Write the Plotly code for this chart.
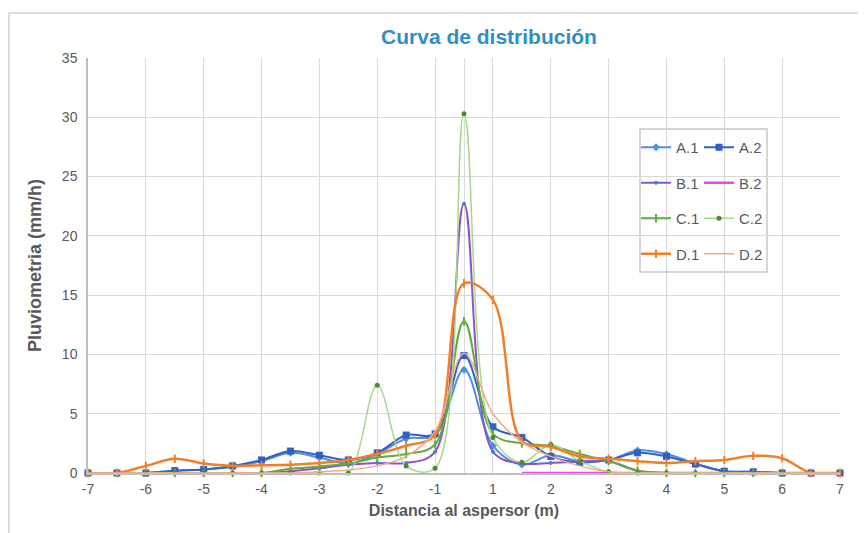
import plotly.graph_objects as go

distances = [-7, -6.5, -6, -5.5, -5, -4.5, -4, -3.5, -3, -2.5, -2, -1.5, -1, 0,
             1, 1.5, 2, 2.5, 3, 3.5, 4, 4.5, 5, 5.5, 6, 6.5, 7]
tick_values = [-7, -6, -5, -4, -3, -2, -1, 0, 1, 2, 3, 4, 5, 6, 7]
tick_labels = ["-7", "-6", "-5", "-4", "-3", "-2", "-1", "", "1", "2", "3", "4", "5", "6", "7"]

a1 = [0, 0, 0, 0.2, 0.3, 0.5, 1.0, 1.7, 1.3, 0.8, 1.6, 2.9, 3.2, 8.7,
      2.3, 0.7, 1.5, 1.0, 1.1, 1.9, 1.6, 0.8, 0.15, 0.1, 0, 0, 0]
a2 = [0, 0, 0, 0.2, 0.3, 0.6, 1.1, 1.85, 1.5, 1.1, 1.7, 3.2, 3.3, 9.9,
      3.9, 3.0, 1.4, 0.9, 1.1, 1.7, 1.4, 0.75, 0.15, 0.1, 0, 0, 0]
b1 = [0, 0, 0, 0, 0, 0, 0, 0.15, 0.4, 0.7, 0.85, 0.85, 1.8, 22.7,
      1.8, 0.8, 0.85, 0.95, 1.0, 0.2, 0, 0, 0, 0, 0, 0, 0]
b2 = [None] * 15 + [0] * 12
c1 = [0, 0, 0, 0, 0, 0, 0, 0.35, 0.55, 0.8, 1.3, 1.6, 2.4, 12.8,
      3.3, 2.5, 2.3, 1.6, 1.0, 0.2, 0, 0, 0, 0, 0, 0, 0]
c2 = [0, 0, 0, 0, 0, 0, 0, 0, 0, 0, 7.4, 0.6, 0.4, 30.3,
      3.0, 0.9, 2.4, 1.0, 0.1, 0, 0, 0, 0, 0, 0, 0, 0]
d1 = [0, 0, 0.6, 1.2, 0.8, 0.6, 0.65, 0.7, 0.85, 1.1, 1.6, 2.3, 3.2, 16.0,
      14.6, 2.7, 2.2, 1.4, 1.2, 1.0, 0.85, 1.0, 1.1, 1.45, 1.25, 0, 0]
d2 = [0, 0, 0, 0, 0, 0, 0, 0, 0.1, 0.25, 0.6, 1.4, 3.5, 10.1,
      5.0, 2.6, 1.4, 0.6, 0.1, 0, 0, 0, 0, 0, 0, 0, 0]

cats = [str(v) for v in distances]
tickcats = [str(v) for v in tick_values]

FONT = "Liberation Sans, Arial, sans-serif"
GRAY = "#595959"

series = [
    ("A.1", a1, dict(color="#4f8fdc", width=2), dict(symbol="diamond", size=6, color="#4f8fdc"), "legend"),
    ("A.2", a2, dict(color="#2f62c4", width=2), dict(symbol="square", size=7, color="#2f5fc8"), "legend2"),
    ("B.1", b1, dict(color="#8a54c8", width=2), dict(symbol="circle", size=4, color="#4a7fd6"), "legend"),
    ("B.2", b2, dict(color="#e64ce6", width=2.5), None, "legend2"),
    ("C.1", c1, dict(color="#5fac3e", width=2), dict(symbol="line-ns", size=6, color="#5fac3e",
                                                      line=dict(width=2, color="#5fac3e")), "legend"),
    ("C.2", c2, dict(color="#a9d88c", width=1.5), dict(symbol="circle", size=5, color="#4f8a2a"), "legend2"),
    ("D.1", d1, dict(color="#f07f2a", width=2.5), dict(symbol="line-ns", size=6, color="#f07f2a",
                                                       line=dict(width=2, color="#f07f2a")), "legend"),
    ("D.2", d2, dict(color="#f5a98a", width=1.5), None, "legend2"),
]

fig = go.Figure()
for name, vals, line, marker, lg in series:
    kw = dict(x=cats, y=vals, name=name, legend=lg, legendgroup=name,
              line=dict(shape="spline", smoothing=1, **line), cliponaxis=False)
    if marker:
        kw["mode"] = "lines+markers"
        kw["marker"] = marker
    else:
        kw["mode"] = "lines"
    fig.add_trace(go.Scatter(**kw))

# the page has an 8px body margin: positions below are in reference-image pixels
OFF = 8
L, R, T, B = 88 - OFF, 26 + OFF, 58 - OFF, 60 + OFF
PW, PH = 866 - L - R, 533 - T - B

def px_x(p):
    return (p - OFF - L) / PW

def px_y(p):
    return (533 - B - (p - OFF)) / PH

legend_common = dict(
    bgcolor="rgba(0,0,0,0)", borderwidth=0,
    font=dict(family=FONT, size=15, color=GRAY),
    traceorder="grouped", tracegroupgap=13,
    xanchor="left", yanchor="top", itemwidth=30,
)

fig.update_layout(
    width=866, height=533,
    margin=dict(l=L, r=R, t=T, b=B),
    paper_bgcolor="white", plot_bgcolor="white",
    font=dict(family=FONT, color=GRAY),
    title=dict(text="<b>Curva de distribución</b>", x=(489 - OFF) / 866, xanchor="center",
               y=1 - (37 - OFF) / 533, yanchor="middle",
               font=dict(family=FONT, size=21, color="#2e8fc6")),
    legend=dict(x=px_x(636), y=px_y(131), **legend_common),
    legend2=dict(x=px_x(699), y=px_y(131), **legend_common),
    xaxis=dict(type="category", categoryorder="array", categoryarray=cats,
               range=[0, len(cats) - 1],
               tickmode="array", tickvals=tickcats, ticktext=tick_labels,
               showgrid=True, gridcolor="#d9d9d9", gridwidth=1,
               showline=True, linecolor="#bfbfbf", linewidth=1.5,
               ticks="outside", ticklen=2, tickcolor="rgba(0,0,0,0)",
               tickfont=dict(family=FONT, size=14, color=GRAY),
               title=dict(text="<b>Distancia al aspersor (m)</b>", standoff=9,
                          font=dict(family=FONT, size=16, color=GRAY)),
               zeroline=False),
    yaxis=dict(range=[0, 35], tickmode="array", tickvals=[0, 5, 10, 15, 20, 25, 30, 35],
               showgrid=True, gridcolor="#d9d9d9", gridwidth=1,
               showline=True, linecolor="#bfbfbf", linewidth=1.5,
               ticks="outside", ticklen=6, tickcolor="rgba(0,0,0,0)",
               tickfont=dict(family=FONT, size=14, color=GRAY),
               title=dict(text="<b>Pluviometria (mm/h)</b>", standoff=16,
                          font=dict(family=FONT, size=18, color=GRAY)),
               zeroline=False),
    shapes=[
        dict(type="rect", xref="paper", yref="paper",
             x0=px_x(640), x1=px_x(767), y0=px_y(272), y1=px_y(129),
             line=dict(color="#c8c8c8", width=1.5), fillcolor="white", layer="below"),
        dict(type="rect", xref="paper", yref="paper",
             x0=px_x(9), x1=px_x(862), y0=px_y(560), y1=px_y(13),
             line=dict(color="#cfcfcf", width=1.5), layer="below"),
    ],
)

fig.write_html("out.html")
